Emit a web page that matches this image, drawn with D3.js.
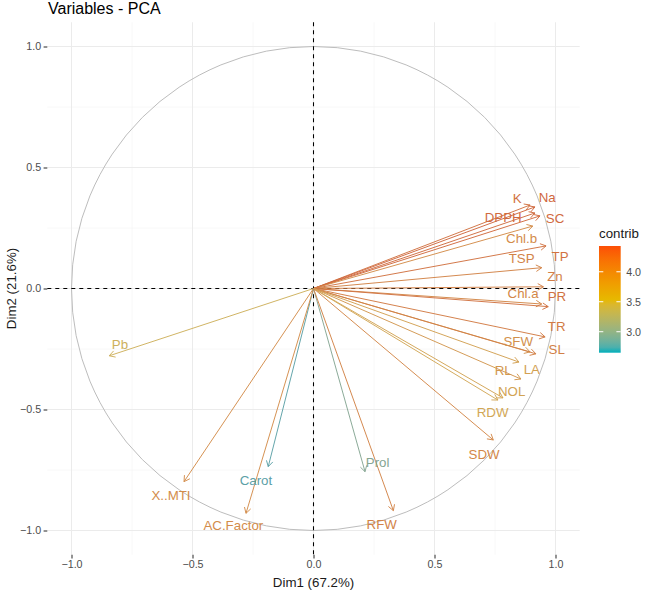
<!DOCTYPE html>
<html>
<head>
<meta charset="utf-8">
<script src="https://cdn.jsdelivr.net/npm/d3@7"></script>
<style>
  html, body { margin: 0; padding: 0; background: #fff; }
  svg { display: block; font-family: "Liberation Sans", Arial, sans-serif; }
</style>
</head>
<body>
<svg id="chart" width="646" height="595"></svg>
<script>
// ---- data ----
const variables = ["K","Na","DPPH","SC","Chl.b","TP","TSP","Zn","Chl.a","PR","TR","SFW","SL","LA","RL","NOL","RDW","SDW","Pb","X..MTI","Carot","AC.Factor","Prol","RFW"];
const dim1 = [0.895,0.915,0.915,0.936,0.906,0.961,0.943,0.950,0.943,0.970,0.957,0.895,0.919,0.849,0.857,0.783,0.762,0.743,-0.844,-0.535,-0.187,-0.279,0.213,0.330];
const dim2 = [0.345,0.337,0.312,0.300,0.258,0.176,0.086,0.007,-0.064,-0.075,-0.200,-0.262,-0.270,-0.304,-0.374,-0.452,-0.461,-0.626,-0.278,-0.798,-0.736,-0.929,-0.757,-0.918];
const contrib = [4.30,4.43,4.38,4.40,4.00,4.30,4.10,4.15,4.05,4.30,4.20,3.95,4.15,3.75,3.85,3.70,3.65,4.05,3.50,4.00,2.66,4.00,2.90,4.10];
// repelled label anchor positions (data units)
const labelX = [0.842,0.966,0.784,0.998,0.860,1.019,0.860,0.998,0.866,1.006,1.005,0.846,1.005,0.902,0.784,0.819,0.740,0.705,-0.800,-0.589,-0.238,-0.331,0.265,0.282];
const labelY = [0.373,0.377,0.293,0.290,0.205,0.134,0.125,0.049,-0.019,-0.033,-0.158,-0.220,-0.254,-0.334,-0.340,-0.426,-0.513,-0.688,-0.233,-0.856,-0.794,-0.981,-0.718,-0.974];
const majorTicks = [-1.0,-0.5,0.0,0.5,1.0];
const minorTicks = [-0.75,-0.25,0.25,0.75];
const legendTicks = [3.0,3.5,4.0];
const gradientCols = ["#00AFBB","#E7B800","#FC4E07"];
const contribRange = [2.65, 4.43];
const title = "Variables - PCA";
const xTitle = "Dim1 (67.2%)";
const yTitle = "Dim2 (21.6%)";

// ---- layout ----
const svg = d3.select("#chart");
const unit = 242;
const cx = 313.5, cy = 288.5;
const lim = 1.1;
const x = d3.scaleLinear().domain([-lim, lim]).range([cx - lim*unit, cx + lim*unit]);
const y = d3.scaleLinear().domain([-lim, lim]).range([cy + lim*unit, cy - lim*unit]);
const [x0, x1] = x.range();
const [y0, y1] = [y(lim), y(-lim)];

const col = d3.scaleLinear()
  .domain([contribRange[0], (contribRange[0]+contribRange[1])/2, contribRange[1]])
  .range(gradientCols).interpolate(d3.interpolateLab).clamp(true);
// thin marks look muted in the reference
const markCol = v => { const h = d3.hcl(col(v)); h.c *= 0.62; h.l *= 0.95; return h.formatHex(); };

// grid
const g = svg.append("g");
minorTicks.forEach(t => {
  g.append("line").attr("x1", x(t)).attr("x2", x(t)).attr("y1", y0).attr("y2", y1)
    .attr("stroke", "#F3F3F3").attr("stroke-width", 0.55);
  g.append("line").attr("y1", y(t)).attr("y2", y(t)).attr("x1", x0).attr("x2", x1)
    .attr("stroke", "#F3F3F3").attr("stroke-width", 0.55);
});
majorTicks.forEach(t => {
  g.append("line").attr("x1", x(t)).attr("x2", x(t)).attr("y1", y0).attr("y2", y1)
    .attr("stroke", "#EBEBEB").attr("stroke-width", 1.07);
  g.append("line").attr("y1", y(t)).attr("y2", y(t)).attr("x1", x0).attr("x2", x1)
    .attr("stroke", "#EBEBEB").attr("stroke-width", 1.07);
});

// axes (ticks + labels)
const xAxis = d3.axisBottom(x).tickValues(majorTicks).tickFormat(d3.format(".1f")).tickSize(3.7).tickPadding(2.5);
const yAxis = d3.axisLeft(y).tickValues(majorTicks).tickFormat(d3.format(".1f")).tickSize(3.7).tickPadding(2.5);
const gx = svg.append("g").attr("transform", `translate(0,${y1})`).call(xAxis);
const gy = svg.append("g").attr("transform", `translate(${x0},0)`).call(yAxis);
[gx, gy].forEach(a => {
  a.select(".domain").remove();
  a.selectAll(".tick line").attr("stroke", "#333333").attr("stroke-width", 1.07);
  a.selectAll(".tick text").attr("fill", "#4D4D4D").attr("font-size", 10.7)
    .attr("font-family", "Liberation Sans, Arial, sans-serif");
});

// circle
svg.append("circle").attr("cx", x(0)).attr("cy", y(0)).attr("r", x(1) - x(0))
  .attr("fill", "none").attr("stroke", "#BDBDBD").attr("stroke-width", 1);

// dashed zero lines
svg.append("line").attr("x1", x(0)).attr("x2", x(0)).attr("y1", y0).attr("y2", y1)
  .attr("stroke", "#000").attr("stroke-width", 1.07).attr("stroke-dasharray", "4,4");
svg.append("line").attr("y1", y(0)).attr("y2", y(0)).attr("x1", x0).attr("x2", x1)
  .attr("stroke", "#000").attr("stroke-width", 1.07).attr("stroke-dasharray", "4,4");

// arrows
const data = variables.map((v, i) => ({name: v, x: dim1[i], y: dim2[i], c: contrib[i], lx: labelX[i], ly: labelY[i]}));
const head = 6.5, ang = Math.PI / 6;
const arrows = svg.append("g");
data.forEach(d => {
  const ex = x(d.x), ey = y(d.y), sx = x(0), sy = y(0);
  const th = Math.atan2(ey - sy, ex - sx);
  const c = markCol(d.c);
  arrows.append("line").attr("x1", sx).attr("y1", sy).attr("x2", ex).attr("y2", ey)
    .attr("stroke", c).attr("stroke-width", 0.95);
  const p1 = [ex - head*Math.cos(th - ang), ey - head*Math.sin(th - ang)];
  const p2 = [ex - head*Math.cos(th + ang), ey - head*Math.sin(th + ang)];
  arrows.append("path").attr("d", `M${p1[0]},${p1[1]}L${ex},${ey}L${p2[0]},${p2[1]}`)
    .attr("fill", "none").attr("stroke", c).attr("stroke-width", 0.95);
});
// labels
svg.append("g").selectAll("text").data(data).join("text")
  .attr("x", d => x(d.lx)).attr("y", d => y(d.ly))
  .attr("text-anchor", "middle").attr("dominant-baseline", "central")
  .attr("font-size", 13.3).attr("fill", d => markCol(d.c)).text(d => d.name);

// titles
svg.append("text").attr("x", 48).attr("y", 14).attr("font-size", 16).attr("fill", "#000").text(title);
svg.append("text").attr("x", x(0)).attr("y", 587).attr("text-anchor", "middle")
  .attr("font-size", 13.3).attr("fill", "#1A1A1A").text(xTitle);
svg.append("text").attr("transform", `translate(16,${y(0)}) rotate(-90)`).attr("text-anchor", "middle")
  .attr("font-size", 13.3).attr("fill", "#1A1A1A").text(yTitle);

// legend
const lg = svg.append("g");
const barX = 599, barW = 21.7, barTop = 246, barH = 106.7;
const ls = d3.scaleLinear().domain(contribRange).range([barTop + barH, barTop]);
const defs = svg.append("defs");
const grad = defs.append("linearGradient").attr("id", "cg").attr("x1", 0).attr("x2", 0).attr("y1", 1).attr("y2", 0);
d3.range(0, 1.0001, 0.05).forEach(t => {
  const v = contribRange[0] + t * (contribRange[1] - contribRange[0]);
  grad.append("stop").attr("offset", t).attr("stop-color", col(v));
});
lg.append("text").attr("x", barX).attr("y", 238).attr("font-size", 13.3).attr("fill", "#1A1A1A").text("contrib");
lg.append("rect").attr("x", barX).attr("y", barTop).attr("width", barW).attr("height", barH).attr("fill", "url(#cg)");
legendTicks.forEach(t => {
  lg.append("line").attr("x1", barX).attr("x2", barX + 4.3).attr("y1", ls(t)).attr("y2", ls(t)).attr("stroke", "#fff").attr("stroke-width", 1);
  lg.append("line").attr("x1", barX + barW - 4.3).attr("x2", barX + barW).attr("y1", ls(t)).attr("y2", ls(t)).attr("stroke", "#fff").attr("stroke-width", 1);
  lg.append("text").attr("x", barX + barW + 5.5).attr("y", ls(t)).attr("dominant-baseline", "central")
    .attr("font-size", 10.7).attr("fill", "#4D4D4D").text(d3.format(".1f")(t));
});
</script>
</body>
</html>
